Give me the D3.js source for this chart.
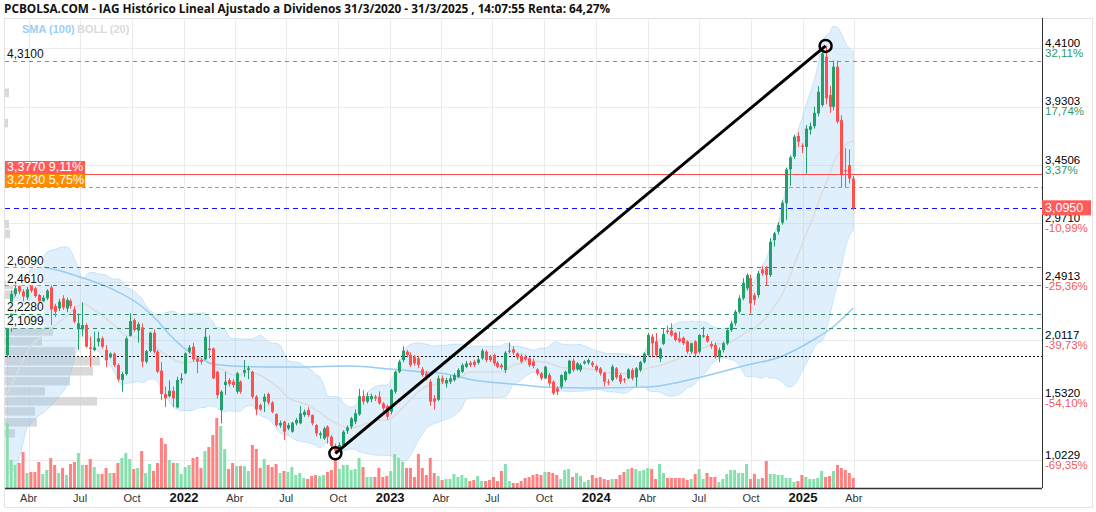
<!DOCTYPE html>
<html>
<head>
<meta charset="utf-8">
<script src="https://cdnjs.cloudflare.com/ajax/libs/d3/7.8.5/d3.min.js"></script>
<style>
  body { margin: 0; background: #fff; }
  svg { display: block; font-family: "Liberation Sans", Arial, sans-serif; }
</style>
</head>
<body>
<svg id="chart" width="1096" height="512"></svg>
<script>
// weekly candles, first one is the week of 22/2/2021
const startWeek = new Date(2021, 1, 22);

const openP = [
  1.888,2.12,2.39,2.456,2.41,2.362,2.456,2.437,2.382,2.33,
  2.355,2.445,2.291,2.272,2.354,2.272,2.335,2.264,2.10,2.10,
  2.135,1.951,1.93,1.998,2.025,1.93,1.87,1.90,1.806,1.683,
  1.732,2.047,2.176,2.089,2.116,1.834,1.921,2.072,1.916,1.76,
  1.568,1.55,1.595,1.458,1.683,1.738,1.916,1.957,1.861,1.847,
  1.853,1.943,1.943,1.751,1.436,1.642,1.683,1.67,1.587,1.669,
  1.743,1.765,1.751,1.546,1.477,1.505,1.568,1.497,1.403,1.31,
  1.34,1.285,1.258,1.327,1.327,1.395,1.436,1.395,1.313,1.231,
  1.203,1.299,1.217,1.14,1.121,1.148,1.266,1.30,1.34,1.40,
  1.55,1.505,1.524,1.546,1.546,1.491,1.469,1.422,1.587,1.751,
  1.847,1.916,1.889,1.875,1.861,1.771,1.738,1.669,1.532,1.52,
  1.697,1.655,1.669,1.683,1.71,1.751,1.792,1.825,1.834,1.825,
  1.861,1.916,1.875,1.889,1.825,1.806,1.765,1.916,1.935,1.902,
  1.88,1.875,1.861,1.834,1.771,1.738,1.697,1.724,1.669,1.614,
  1.628,1.683,1.738,1.842,1.771,1.765,1.82,1.826,1.826,1.798,
  1.779,1.743,1.669,1.683,1.779,1.724,1.69,1.697,1.765,1.705,
  1.765,1.83,1.888,2.04,2.0,1.86,1.98,2.089,2.09,2.07,
  2.026,2.03,2.0,1.916,2.0,1.916,2.04,2.045,1.979,1.97,
  1.87,1.93,1.985,2.094,2.149,2.245,2.355,2.437,2.52,2.38,
  2.382,2.593,2.60,2.546,2.834,2.903,2.977,3.136,3.415,3.52,
  3.69,3.61,3.60,3.74,3.77,3.876,3.944,4.342,4.026,3.93,
  4.26,3.82,3.41,3.45,3.34
];
const highP = [
  2.14,2.42,2.46,2.47,2.43,2.45,2.47,2.45,2.39,2.38,
  2.43,2.46,2.31,2.35,2.38,2.36,2.35,2.29,2.23,2.32,
  2.15,2.04,2.08,2.08,2.04,1.97,1.91,1.91,1.82,1.75,
  2.04,2.231,2.19,2.16,2.149,1.93,2.08,2.10,1.93,1.83,
  1.63,1.68,1.63,1.71,1.74,1.91,1.97,1.99,1.87,1.86,
  2.107,2.05,1.95,1.76,1.60,1.75,1.70,1.69,1.75,1.68,
  1.847,1.80,1.76,1.56,1.49,1.57,1.58,1.51,1.41,1.35,
  1.35,1.33,1.34,1.37,1.47,1.44,1.46,1.40,1.32,1.26,
  1.30,1.31,1.23,1.16,1.17,1.27,1.31,1.38,1.44,1.61,
  1.60,1.58,1.57,1.56,1.59,1.50,1.48,1.61,1.76,1.85,
  1.96,1.93,1.91,1.89,1.88,1.79,1.76,1.69,1.56,1.72,
  1.72,1.70,1.72,1.74,1.78,1.82,1.84,1.84,1.85,1.87,
  1.94,1.93,1.89,1.90,1.84,1.82,1.92,1.99,1.96,1.91,
  1.90,1.89,1.87,1.86,1.78,1.75,1.80,1.74,1.68,1.63,
  1.73,1.76,1.85,1.86,1.83,1.82,1.845,1.86,1.84,1.81,
  1.79,1.75,1.69,1.81,1.79,1.74,1.70,1.78,1.78,1.79,
  1.84,1.91,2.07,2.06,2.07,1.95,2.11,2.13,2.15,2.08,
  2.08,2.04,2.01,1.99,2.01,2.06,2.12,2.06,2.0,1.99,
  1.95,2.0,2.11,2.17,2.26,2.38,2.52,2.56,2.55,2.40,
  2.58,2.62,2.62,2.85,2.90,2.98,3.16,3.43,3.53,3.70,
  3.72,3.63,3.78,3.80,3.93,4.10,4.40,4.43,4.10,4.31,
  4.31,3.86,3.59,3.58,3.36
];
const lowP = [
  1.87,2.08,2.37,2.39,2.33,2.34,2.40,2.36,2.30,2.31,
  2.34,2.135,2.20,2.25,2.26,2.24,2.27,2.15,1.93,2.04,
  1.95,1.79,1.92,1.96,1.94,1.79,1.86,1.79,1.67,1.587,
  1.72,2.04,2.08,1.99,1.79,1.82,1.91,1.90,1.74,1.52,
  1.46,1.54,1.46,1.45,1.655,1.73,1.90,1.834,1.74,1.81,
  1.85,1.86,1.69,1.53,1.327,1.56,1.63,1.62,1.57,1.57,
  1.71,1.69,1.53,1.395,1.43,1.42,1.48,1.41,1.30,1.29,
  1.19,1.27,1.25,1.31,1.32,1.38,1.38,1.31,1.22,1.20,
  1.19,1.16,1.12,1.08,1.10,1.14,1.24,1.28,1.32,1.39,
  1.48,1.49,1.50,1.51,1.48,1.43,1.36,1.40,1.57,1.74,
  1.83,1.87,1.79,1.80,1.78,1.71,1.68,1.47,1.44,1.51,
  1.65,1.62,1.65,1.67,1.70,1.74,1.78,1.79,1.79,1.81,
  1.85,1.83,1.83,1.80,1.78,1.77,1.74,1.90,1.89,1.85,
  1.82,1.84,1.79,1.78,1.72,1.68,1.69,1.63,1.56,1.56,
  1.61,1.67,1.73,1.75,1.76,1.75,1.81,1.81,1.79,1.75,
  1.72,1.63,1.64,1.67,1.69,1.65,1.66,1.69,1.68,1.63,
  1.75,1.82,1.88,1.87,1.87,1.83,1.97,2.06,2.04,2.0,
  1.99,1.97,1.90,1.90,1.87,1.90,2.03,1.99,1.94,1.86,
  1.83,1.91,1.97,2.08,2.13,2.23,2.34,2.42,2.23,2.30,
  2.36,2.54,2.46,2.53,2.78,2.88,2.96,3.0,3.28,3.50,
  3.60,3.55,3.38,3.70,3.75,3.85,3.93,3.95,3.88,3.90,
  3.79,3.27,3.27,3.30,3.08
];
const closeP = [
  2.118,2.39,2.437,2.41,2.37,2.429,2.418,2.374,2.327,2.36,
  2.418,2.264,2.245,2.327,2.28,2.341,2.291,2.163,2.15,2.135,
  1.957,1.94,1.951,2.025,1.957,1.847,1.90,1.806,1.688,1.732,
  2.025,2.168,2.094,2.143,1.834,1.921,2.072,1.916,1.751,1.568,
  1.532,1.595,1.532,1.683,1.697,1.902,1.951,1.853,1.834,1.834,
  2.039,1.93,1.697,1.56,1.587,1.669,1.65,1.642,1.738,1.587,
  1.765,1.779,1.546,1.442,1.442,1.546,1.497,1.422,1.313,1.33,
  1.258,1.313,1.332,1.354,1.409,1.422,1.395,1.327,1.244,1.244,
  1.285,1.217,1.14,1.10,1.148,1.258,1.293,1.367,1.41,1.55,
  1.505,1.55,1.551,1.532,1.491,1.45,1.381,1.601,1.751,1.834,
  1.924,1.889,1.806,1.82,1.806,1.724,1.697,1.505,1.505,1.697,
  1.669,1.683,1.697,1.724,1.765,1.806,1.82,1.806,1.806,1.853,
  1.924,1.847,1.847,1.82,1.792,1.787,1.908,1.924,1.908,1.869,
  1.834,1.853,1.806,1.798,1.738,1.697,1.792,1.655,1.573,1.587,
  1.724,1.751,1.842,1.765,1.82,1.806,1.835,1.847,1.806,1.765,
  1.738,1.669,1.661,1.793,1.705,1.669,1.685,1.77,1.697,1.779,
  1.83,1.90,2.053,1.985,1.888,1.94,2.06,2.078,2.05,2.012,
  2.0,1.985,1.916,1.985,1.90,2.053,2.05,2.0,1.96,1.875,
  1.93,1.985,2.094,2.149,2.245,2.355,2.483,2.546,2.313,2.341,
  2.56,2.56,2.546,2.82,2.889,2.958,3.141,3.415,3.514,3.684,
  3.643,3.60,3.75,3.77,3.88,4.054,4.369,4.0,3.93,4.26,
  3.807,3.37,3.40,3.34,3.095
];
const volume = [
  65,28,23,25,36,15,16,16,26,14,
  18,30,23,15,20,13,24,26,35,23,
  23,29,21,14,14,20,15,15,25,30,
  35,29,19,20,37,15,24,17,25,50,
  44,28,25,25,14,21,23,30,31,20,
  37,41,53,70,62,39,19,25,22,22,
  22,17,43,39,20,29,23,21,24,15,
  17,16,21,13,15,10,9,12,13,12,
  13,16,18,28,19,23,23,18,19,30,
  21,11,11,11,20,11,12,17,34,30,
  26,20,20,11,34,20,13,30,15,12,
  8,9,9,14,11,13,10,7,8,12,
  7,7,8,11,7,17,24,7,5,5,
  7,10,11,13,14,13,16,16,15,13,
  9,18,19,11,15,12,6,8,13,10,
  11,9,8,9,9,13,16,19,20,19,
  17,18,20,19,9,24,15,10,10,10,
  10,10,8,9,14,19,9,15,11,11,
  6,9,14,18,18,15,15,24,9,14,
  9,10,27,14,14,13,13,10,10,6,
  7,13,11,9,9,10,17,11,12,17,
  23,20,18,15,10
];
// closes of the 19 weeks before the first candle, only used to start BOLL(20)
const warmupClose = [1.10,1.08,1.02,0.95,1.05,1.55,1.55,1.75,1.80,1.75,1.85,1.78,1.80,1.85,1.78,1.65,1.55,1.68,1.75];

// SMA(100)
const sma100Dates = ['2021-02-22','2021-04-26','2021-05-21','2021-07-01','2021-08-23','2021-10-15','2021-11-14',
  '2021-12-02','2021-12-30','2022-01-29','2022-02-21','2022-03-29','2022-05-28','2022-07-25','2022-10-22',
  '2023-01-01','2023-02-28','2023-03-30','2023-05-28','2023-08-24','2023-09-29','2023-12-21','2024-03-31',
  '2024-06-27','2024-09-24','2024-11-21','2025-01-19','2025-02-23','2025-03-31'];
const sma100Vals = [2.64,2.612,2.588,2.53,2.439,2.30,2.176,2.078,1.954,1.864,1.814,1.798,1.79,1.79,1.798,
  1.773,1.749,1.74,1.683,1.642,1.625,1.617,1.625,1.699,1.806,1.872,2.012,2.119,2.275];

// volume profile (top price of each band, relative size)
const profileTop = [4.08,3.83,3.00,2.92,2.50,2.42,2.118,2.036,1.954,1.872,1.790,1.708,1.625,1.543,1.460,1.370,1.280];
const profileVol = [4,3,4,5,8,10,48,37,70,95,88,65,40,92,30,32,10];

// right axis
const axisPrices = [4.41, 3.9303, 3.4506, 2.971, 2.4913, 2.0117, 1.532, 1.0229];
const axisPct = ['32,11%','17,74%','3,37%','-10,99%','-25,36%','-39,73%','-54,10%','-69,35%'];

// marked levels
const greenLevels = [2.609, 2.461, 2.228, 2.1099];
const topLevel = 4.31;
const redLevel = 3.377, orangeLevel = 3.273, lastPrice = 3.095, basePrice = 1.884;
const trendFrom = 83, trendTo = 207;

const monthNames = ['Ene','Feb','Mar','Abr','May','Jun','Jul','Ago','Sep','Oct','Nov','Dic'];

const pL = 5, pR = 1042, pT = 18, pB = 488;
const svg = d3.select('#chart');

const x = d3.scaleTime().domain([new Date(2022, 0, 1), new Date(2025, 0, 1)]).range([184, 803]);
const y = d3.scaleLinear().domain([1.0229, 4.41]).range([460.3, 48.4]);
const vy = d3.scaleLinear().domain([0, 70]).range([pB, pB - 70]);
const px = d3.scaleLinear().domain([0, 95]).range([0, 95]);

const candles = closeP.map((c, i) => ({
  date: d3.timeDay.offset(startWeek, 7 * i),
  o: openP[i], h: highP[i], l: lowP[i], c: c, vol: volume[i]
}));

const fmt = (v, d) => d3.format(`.${d}f`)(v).replace('.', ',');

svg.append('defs').append('clipPath').attr('id', 'plot')
  .append('rect').attr('x', pL).attr('y', pT).attr('width', pR - pL).attr('height', pB - pT);

// frame
svg.append('rect').attr('x', 4.5).attr('y', 18.5).attr('width', 1088).attr('height', 489)
  .attr('fill', 'none').attr('stroke', '#e2e2e2');

const plot = svg.append('g').attr('clip-path', 'url(#plot)');

// grid
const quarterTicks = d3.timeMonths(new Date(2021, 3, 1), new Date(2025, 4, 1), 3);
plot.append('g').selectAll('line').data(quarterTicks).join('line')
  .attr('x1', d => Math.round(x(d)) + 0.5).attr('x2', d => Math.round(x(d)) + 0.5)
  .attr('y1', pT).attr('y2', pB).attr('stroke', '#ebebeb');
plot.append('g').selectAll('line').data(axisPrices).join('line')
  .attr('x1', pL).attr('x2', pR)
  .attr('y1', d => Math.round(y(d)) + 0.5).attr('y2', d => Math.round(y(d)) + 0.5)
  .attr('stroke', '#ebebeb');

// volume profile
const binH = 0.078;
plot.append('g').selectAll('rect').data(profileTop).join('rect')
  .attr('x', pL)
  .attr('y', d => y(d))
  .attr('width', (d, i) => px(profileVol[i]))
  .attr('height', d => y(d - binH) - y(d) - 1)
  .attr('fill', '#d2d2d2').attr('opacity', 0.85);

// Bollinger(20)
const allClose = warmupClose.concat(closeP);
const boll = candles.map((d, i) => {
  const win = allClose.slice(i, i + 20);
  const m = d3.mean(win);
  const sd = Math.sqrt(d3.mean(win, c => (c - m) * (c - m)));
  return { date: d.date, mid: m, up: m + 2 * sd, lo: m - 2 * sd };
});
plot.append('path').datum(boll)
  .attr('d', d3.area().x(d => x(d.date)).y0(d => y(d.lo)).y1(d => y(d.up)).curve(d3.curveMonotoneX))
  .attr('fill', 'rgba(150,205,245,0.3)').attr('stroke', 'rgba(150,205,245,0.45)');
plot.append('path').datum(boll)
  .attr('d', d3.line().x(d => x(d.date)).y(d => y(d.mid)).curve(d3.curveMonotoneX))
  .attr('fill', 'none').attr('stroke', '#dcdcdc').attr('stroke-width', 1.5);

// SMA(100)
const sma100 = sma100Dates.map((d, i) => ({ date: d3.timeParse('%Y-%m-%d')(d), v: sma100Vals[i] }));
plot.append('path').datum(sma100)
  .attr('d', d3.line().x(d => x(d.date)).y(d => y(d.v)).curve(d3.curveMonotoneX))
  .attr('fill', 'none').attr('stroke', '#96ccf4').attr('stroke-width', 1.5);

// volume bars
plot.append('g').selectAll('rect').data(candles).join('rect')
  .attr('x', d => x(d.date) - 1.5).attr('width', 3)
  .attr('y', d => vy(d.vol)).attr('height', d => pB - vy(d.vol))
  .attr('fill', d => d.c >= d.o ? '#86e0ae' : '#ff8282');

// levels
const levels = plot.append('g');
const hline = (p, x1, color, dash, w) => levels.append('line')
  .attr('x1', x1).attr('x2', pR)
  .attr('y1', Math.round(y(p)) + 0.5).attr('y2', Math.round(y(p)) + 0.5)
  .attr('stroke', color).attr('stroke-width', w || 1).attr('stroke-dasharray', dash);
hline(topLevel, pL, '#e06666', '4,4');
greenLevels.forEach(p => hline(p, pL, '#2e8b5e', '4,4'));
hline(basePrice, pL, '#111', '2,2');
hline(lastPrice, pL, '#1010ff', '5,4');
hline(orangeLevel, pL, '#f0901a', '4,3');
hline(redLevel, pL, '#ff4d4d', null);

// candles
const cg = plot.append('g');
cg.selectAll('line').data(candles).join('line')
  .attr('x1', d => Math.round(x(d.date)) + 0.5).attr('x2', d => Math.round(x(d.date)) + 0.5)
  .attr('y1', d => y(d.h)).attr('y2', d => y(d.l))
  .attr('stroke', d => d.c >= d.o ? '#22a06a' : '#ff4f4f');
cg.selectAll('rect').data(candles).join('rect')
  .attr('x', d => Math.round(x(d.date)) - 1).attr('width', 3)
  .attr('y', d => y(Math.max(d.o, d.c)))
  .attr('height', d => Math.max(1, Math.abs(y(d.o) - y(d.c))))
  .attr('fill', d => d.c >= d.o ? '#22a06a' : '#ff4f4f');

// trend line low -> high
const ca = candles[trendFrom], cb = candles[trendTo];
const tl = [[x(ca.date), y(ca.l)], [x(cb.date), y(cb.h)]];
plot.append('line').attr('x1', tl[0][0]).attr('y1', tl[0][1]).attr('x2', tl[1][0]).attr('y2', tl[1][1])
  .attr('stroke', '#000').attr('stroke-width', 3);
plot.selectAll('circle.end').data(tl).join('circle').attr('class', 'end')
  .attr('cx', d => d[0]).attr('cy', d => d[1]).attr('r', 6)
  .attr('fill', 'none').attr('stroke', '#000').attr('stroke-width', 2.5);

// axes lines
svg.append('line').attr('x1', pR + 0.5).attr('x2', pR + 0.5).attr('y1', pT).attr('y2', pB)
  .attr('stroke', '#333');
svg.append('line').attr('x1', pL).attr('x2', pR).attr('y1', pB + 0.5).attr('y2', pB + 0.5)
  .attr('stroke', '#333').attr('stroke-width', 1.5);

// right axis labels
const ra = svg.append('g').attr('font-size', 11.5);
axisPrices.forEach((p, i) => {
  const gy = y(p);
  ra.append('text').attr('x', pR + 3).attr('y', gy - 4.5).attr('dominant-baseline', 'middle')
    .attr('fill', '#000').text(fmt(p, 4));
  ra.append('text').attr('x', pR + 3).attr('y', gy + 5.5).attr('dominant-baseline', 'middle')
    .attr('fill', axisPct[i].startsWith('-') ? '#f05a5a' : '#2a9a6a').text(axisPct[i]);
});
// last price tag
svg.append('rect').attr('x', pR).attr('y', y(lastPrice) - 8).attr('width', 49).attr('height', 15)
  .attr('fill', '#ff5a5a');
svg.append('text').attr('x', pR + 3).attr('y', y(lastPrice)).attr('dominant-baseline', 'middle')
  .attr('font-size', 12.5).attr('fill', '#fff').text(fmt(lastPrice, 4));

// left level labels
const ll = svg.append('g').attr('font-size', 12);
[topLevel].concat(greenLevels).forEach(p => {
  const ty = y(p) - 6;
  ll.append('rect').attr('x', pL + 1).attr('y', ty - 6).attr('width', 38).attr('height', 12)
    .attr('fill', '#fff').attr('opacity', 0.85);
  ll.append('text').attr('x', pL + 2).attr('y', ty).attr('dominant-baseline', 'middle')
    .attr('fill', '#111').text(fmt(p, 4));
});
[[redLevel, '#ff5a5a'], [orangeLevel, '#ff8c00']].forEach(([p, col]) => {
  const by = Math.round(y(p));
  ll.append('rect').attr('x', pL).attr('y', by - 13).attr('width', 80).attr('height', 13).attr('fill', col);
  ll.append('text').attr('x', pL + 2).attr('y', by - 6.5).attr('dominant-baseline', 'middle')
    .attr('fill', '#fff').attr('font-size', 12.5)
    .text(`${fmt(p, 4)}  ${fmt((p / lastPrice - 1) * 100, 2)}%`);
});

// x axis labels
const xa = svg.append('g').attr('text-anchor', 'middle');
quarterTicks.forEach(d => {
  const isYear = d.getMonth() === 0;
  xa.append('text').attr('x', x(d)).attr('y', 499).attr('dominant-baseline', 'middle')
    .attr('font-size', isYear ? 13 : 11).attr('font-weight', isYear ? 'bold' : 'normal')
    .attr('fill', isYear ? '#111' : '#333')
    .text(isYear ? d.getFullYear() : monthNames[d.getMonth()]);
});

// title and legend
svg.append('text').attr('x', 4).attr('y', 13).attr('font-family', '"Open Sans", sans-serif')
  .attr('font-size', 11.8).attr('font-weight', 'bold').attr('fill', '#111')
  .text('PCBOLSA.COM - IAG Histórico Lineal Ajustado a Dividenos 31/3/2020 - 31/3/2025 , 14:07:55 Renta: 64,27%');
svg.append('text').attr('x', 22).attr('y', 33).attr('font-size', 11).attr('font-weight', 'bold')
  .attr('fill', '#9ccff5').text('SMA (100)');
svg.append('text').attr('x', 77).attr('y', 33).attr('font-size', 11).attr('font-weight', 'bold')
  .attr('fill', '#dadada').text('BOLL (20)');
</script>
</body>
</html>
